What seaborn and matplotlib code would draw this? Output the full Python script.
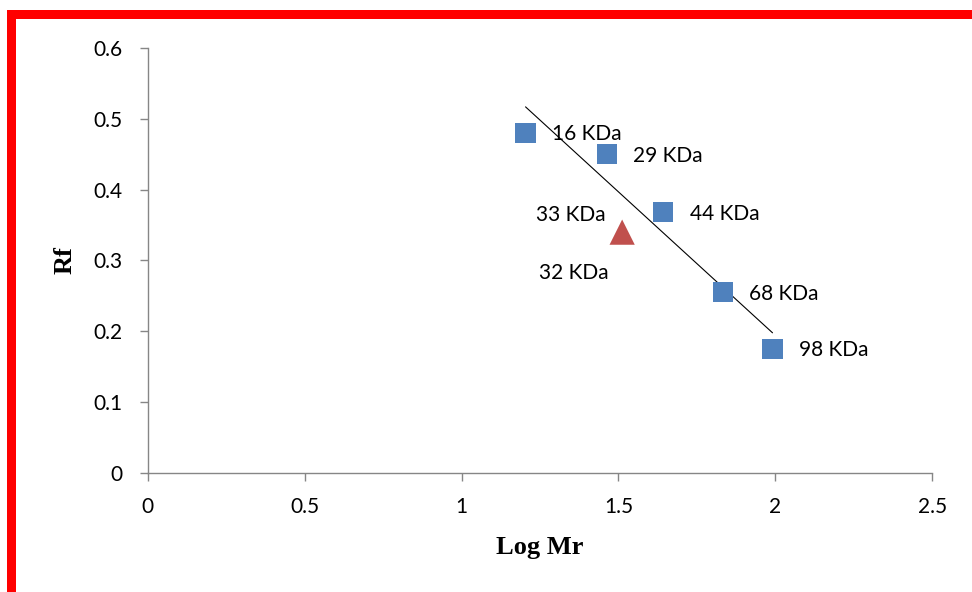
import numpy as np
import pandas as pd
import matplotlib
matplotlib.use("Agg")
import matplotlib.pyplot as plt
from matplotlib.patches import Rectangle
import seaborn as sns

# Protein standards: molecular weight (kDa) and measured Rf
std_kda = [16, 29, 44, 68, 98]
std_labels = ["16 KDa", "29 KDa", "44 KDa", "68 KDa", "98 KDa"]
std_rf = [0.48, 0.45, 0.368, 0.255, 0.175]

# Unknown sample band
sample_logmr = [1.512]
sample_rf = [0.34]
sample_labels = ["33 KDa", "32 KDa"]

x_ticks = [0, 0.5, 1, 1.5, 2, 2.5]
y_ticks = [0, 0.1, 0.2, 0.3, 0.4, 0.5, 0.6]

std = pd.DataFrame({"logmr": np.log10(std_kda), "rf": std_rf, "label": std_labels})
smp = pd.DataFrame({"logmr": sample_logmr, "rf": sample_rf})

sns.set_theme(style="white")
plt.rcParams["font.family"] = ["Lato", "DejaVu Sans"]
plt.rcParams["text.color"] = "black"

fig = plt.figure(figsize=(9.72, 5.92), dpi=100)
ax = fig.add_axes([0.152, 0.201, 0.807, 0.718])

# least-squares calibration line through the standards
sns.regplot(data=std, x="logmr", y="rf", ci=None, scatter=False, ax=ax,
            line_kws=dict(color="black", lw=0.8), truncate=True)

sns.scatterplot(data=std, x="logmr", y="rf", marker="s", s=210,
                color="#4F81BD", edgecolor="none", ax=ax, zorder=3)
sns.scatterplot(data=smp, x="logmr", y="rf", marker="^", s=330,
                color="#C0504D", edgecolor="none", ax=ax, zorder=3)

for xv, yv, lab in zip(std["logmr"], std["rf"], std["label"]):
    ax.annotate(lab, (xv, yv), xytext=(19, -1), textcoords="offset points",
                ha="left", va="center", fontsize=15, color="black")

ax.annotate(sample_labels[0], (sample_logmr[0], sample_rf[0]), xytext=(-12, 12),
            textcoords="offset points", ha="right", va="center", fontsize=15,
            color="black")
ax.annotate(sample_labels[1], (sample_logmr[0], sample_rf[0]), xytext=(-10, -29.5),
            textcoords="offset points", ha="right", va="center", fontsize=15,
            color="black")

ax.set_xlim(0, 2.5)
ax.set_ylim(0, 0.6)
ax.set_xticks(x_ticks)
ax.set_yticks(y_ticks)
ax.set_xticklabels([f"{t:g}" for t in x_ticks], fontsize=15)
ax.set_yticklabels([f"{t:g}" for t in y_ticks], fontsize=15)

for side in ("top", "right"):
    ax.spines[side].set_visible(False)
for side in ("left", "bottom"):
    ax.spines[side].set_color("#868686")
    ax.spines[side].set_linewidth(1.0)
ax.tick_params(axis="both", which="major", direction="out", length=6,
               width=1, color="#868686", labelcolor="black",
               bottom=True, left=True)
ax.tick_params(axis="x", pad=11)
ax.tick_params(axis="y", pad=12)

ax.set_xlabel("Log Mr", fontsize=19, fontweight="bold",
              family=["Liberation Serif"], labelpad=14, color="black")
ax.set_ylabel("Rf", fontsize=19, fontweight="bold",
              family=["Liberation Serif"], labelpad=12, color="black")

# red frame along the top and left edges
W, H = 972, 592
fig.add_artist(Rectangle((7 / W, 0), 9 / W, 1 - 10 / H, transform=fig.transFigure,
                         facecolor="#FF0000", edgecolor="none", zorder=10))
fig.add_artist(Rectangle((7 / W, 1 - 19 / H), 1 - 7 / W, 9 / H, transform=fig.transFigure,
                         facecolor="#FF0000", edgecolor="none", zorder=10))

fig.savefig("out.png", dpi=100)
